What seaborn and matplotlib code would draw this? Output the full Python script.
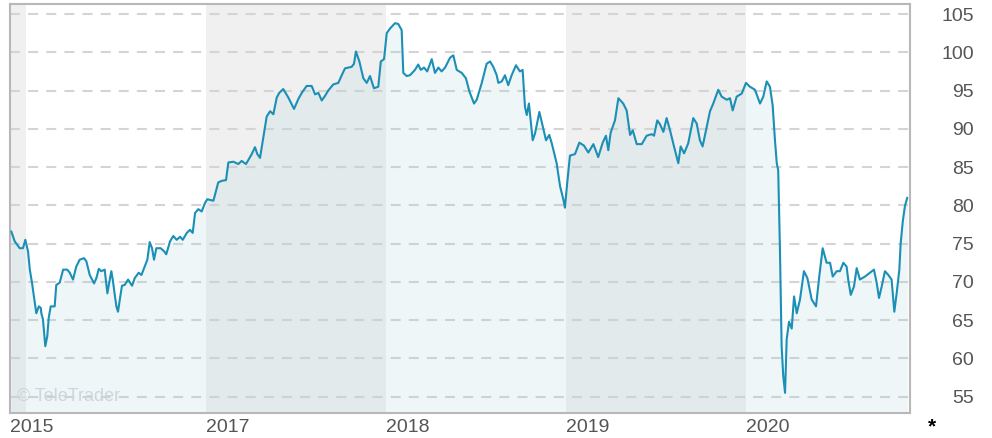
import pandas as pd
import matplotlib
matplotlib.use('Agg')
import matplotlib.pyplot as plt
import seaborn as sns
import numpy as np

# dates as decimal years, price values
years = [
    2015.918, 2015.937, 2015.965, 2015.983, 2015.996, 2016.011, 2016.021, 2016.033, 2016.044, 2016.057,
    2016.071, 2016.082, 2016.085, 2016.094, 2016.107, 2016.118, 2016.126, 2016.137, 2016.159, 2016.168,
    2016.187, 2016.206, 2016.229, 2016.243, 2016.261, 2016.279, 2016.298, 2016.322, 2016.335, 2016.354,
    2016.378, 2016.391, 2016.404, 2016.418, 2016.437, 2016.452, 2016.465, 2016.474, 2016.483, 2016.493,
    2016.502, 2016.511, 2016.521, 2016.533, 2016.548, 2016.567, 2016.589, 2016.604, 2016.626, 2016.641,
    2016.659, 2016.674, 2016.687, 2016.700, 2016.711, 2016.724, 2016.748, 2016.767, 2016.779, 2016.800,
    2016.818, 2016.837, 2016.856, 2016.871, 2016.893, 2016.911, 2016.926, 2016.939, 2016.957, 2016.976,
    2016.994, 2017.007, 2017.041, 2017.068, 2017.087, 2017.111, 2017.124, 2017.152, 2017.179, 2017.198,
    2017.222, 2017.254, 2017.272, 2017.285, 2017.300, 2017.318, 2017.337, 2017.356, 2017.374, 2017.393,
    2017.407, 2017.429, 2017.457, 2017.489, 2017.513, 2017.532, 2017.559, 2017.587, 2017.606, 2017.624,
    2017.643, 2017.661, 2017.679, 2017.707, 2017.735, 2017.754, 2017.772, 2017.809, 2017.822, 2017.833,
    2017.852, 2017.874, 2017.893, 2017.911, 2017.933, 2017.957, 2017.971, 2017.989, 2018.004, 2018.022,
    2018.050, 2018.068, 2018.087, 2018.096, 2018.115, 2018.133, 2018.161, 2018.179, 2018.193, 2018.211,
    2018.229, 2018.254, 2018.272, 2018.291, 2018.309, 2018.328, 2018.356, 2018.374, 2018.393, 2018.421,
    2018.444, 2018.463, 2018.489, 2018.504, 2018.532, 2018.559, 2018.578, 2018.596, 2018.615, 2018.624,
    2018.643, 2018.661, 2018.679, 2018.698, 2018.722, 2018.744, 2018.759, 2018.772, 2018.782, 2018.794,
    2018.815, 2018.828, 2018.852, 2018.871, 2018.889, 2018.907, 2018.921, 2018.948, 2018.967, 2018.985,
    2018.994, 2019.007, 2019.022, 2019.050, 2019.074, 2019.100, 2019.124, 2019.152, 2019.179, 2019.204,
    2019.222, 2019.235, 2019.248, 2019.272, 2019.291, 2019.318, 2019.337, 2019.356, 2019.371, 2019.393,
    2019.421, 2019.448, 2019.476, 2019.489, 2019.507, 2019.522, 2019.541, 2019.559, 2019.578, 2019.600,
    2019.624, 2019.637, 2019.656, 2019.679, 2019.707, 2019.726, 2019.744, 2019.759, 2019.782, 2019.800,
    2019.818, 2019.846, 2019.865, 2019.893, 2019.911, 2019.926, 2019.948, 2019.976, 2020.000, 2020.022,
    2020.050, 2020.078, 2020.096, 2020.115, 2020.133, 2020.148, 2020.161, 2020.171, 2020.179, 2020.189,
    2020.198, 2020.207, 2020.217, 2020.226, 2020.239, 2020.254, 2020.267, 2020.282, 2020.300, 2020.322,
    2020.341, 2020.365, 2020.389, 2020.407, 2020.426, 2020.448, 2020.467, 2020.482, 2020.504, 2020.522,
    2020.541, 2020.559, 2020.568, 2020.582, 2020.600, 2020.615, 2020.633, 2020.661, 2020.689, 2020.711,
    2020.726, 2020.739, 2020.754, 2020.772, 2020.791, 2020.809, 2020.824, 2020.837, 2020.852, 2020.859,
    2020.871, 2020.883, 2020.896,
]
prices = [
    76.6, 75.3, 74.4, 74.4, 75.5, 74.0, 71.6, 69.9, 68.1, 65.9,
    66.8, 66.6, 65.9, 65.1, 61.6, 62.9, 65.3, 66.8, 66.8, 69.6,
    69.9, 71.6, 71.6, 71.2, 70.3, 72.0, 72.9, 73.1, 72.7, 70.9,
    69.8, 70.5, 71.7, 71.4, 71.6, 68.5, 70.3, 71.4, 70.1, 68.3,
    66.8, 66.1, 67.7, 69.5, 69.6, 70.3, 69.5, 70.5, 71.2, 70.9,
    72.0, 72.9, 75.2, 74.4, 72.9, 74.4, 74.4, 74.0, 73.6, 75.3,
    76.0, 75.5, 75.9, 75.5, 76.4, 76.8, 76.4, 79.0, 79.5, 79.2,
    80.3, 80.8, 80.6, 83.0, 83.2, 83.3, 85.6, 85.7, 85.4, 85.8,
    85.4, 86.7, 87.6, 86.7, 86.2, 88.8, 91.6, 92.3, 91.9, 94.1,
    94.7, 95.2, 94.1, 92.6, 93.9, 94.7, 95.6, 95.6, 94.5, 94.7,
    93.7, 94.3, 95.0, 95.8, 96.0, 97.0, 97.9, 98.1, 98.5, 100.1,
    98.8, 96.6, 96.0, 96.9, 95.3, 95.5, 98.8, 99.1, 102.5, 103.1,
    103.8, 103.7, 102.9, 97.3, 96.9, 97.0, 97.7, 98.4, 97.7, 98.0,
    97.5, 99.1, 97.3, 98.0, 97.5, 98.0, 99.3, 99.6, 97.7, 97.3,
    96.6, 94.9, 93.3, 93.8, 96.0, 98.5, 98.8, 98.1, 97.0, 96.0,
    96.2, 97.0, 95.7, 97.0, 98.3, 97.5, 97.7, 92.9, 91.8, 93.3,
    88.5, 89.4, 92.2, 90.3, 88.5, 89.2, 88.1, 85.5, 82.5, 80.8,
    79.7, 83.0, 86.5, 86.7, 88.2, 87.8, 86.9, 88.0, 86.3, 88.2,
    89.1, 87.2, 89.5, 91.1, 94.0, 93.3, 92.4, 89.2, 89.8, 88.0,
    88.0, 89.1, 89.3, 89.1, 91.1, 90.6, 89.6, 91.4, 89.8, 87.7,
    85.5, 87.7, 86.8, 88.1, 91.4, 90.7, 88.5, 87.7, 90.3, 92.3,
    93.3, 95.1, 94.2, 93.8, 94.0, 92.4, 94.2, 94.6, 96.0, 95.5,
    95.1, 93.3, 94.2, 96.2, 95.5, 93.1, 88.5, 85.5, 84.6, 73.8,
    61.6, 57.7, 55.5, 62.5, 64.8, 63.9, 68.1, 65.9, 67.7, 71.4,
    70.5, 67.7, 66.8, 70.7, 74.4, 72.5, 72.5, 70.7, 71.4, 71.4,
    72.5, 72.0, 70.3, 68.3, 69.4, 71.8, 70.3, 70.7, 71.2, 71.6,
    69.9, 67.9, 69.4, 71.4, 70.9, 70.3, 66.1, 68.5, 71.6, 74.9,
    77.9, 79.9, 81.0,
]

year_starts = [2017, 2018, 2019, 2020]
tick_labels = ['2015', '2017', '2018', '2019', '2020']
y_ticks = [55, 60, 65, 70, 75, 80, 85, 90, 95, 100, 105]

df = pd.DataFrame({'year': years, 'price': prices})

sns.set_style('white')
plt.rcParams['font.family'] = ['Liberation Sans', 'DejaVu Sans']

fig = plt.figure(figsize=(9.92, 4.38), dpi=100)
ax = fig.add_axes([0.0101, 0.0571, 0.9072, 0.9338])

x0, x1 = 2015.911, 2020.911
y0, y1 = 52.87, 106.31

# alternating year bands
for a, b in [(x0, 2016.0), (2017.0, 2018.0), (2019.0, 2020.0)]:
    ax.axvspan(a, b, color='#f0f0f0', lw=0, zorder=0)

# dashed grid
for v in y_ticks:
    ax.axhline(v, color='#d4d4d4', lw=1.5, dashes=(4.8, 3.9), zorder=1)

ax.fill_between(df['year'], df['price'], y0, color='#aad2dc', alpha=0.2, lw=0, zorder=2)
sns.lineplot(data=df, x='year', y='price', color='#1b8fb5', lw=1.5, ax=ax, zorder=3)

ax.set_xlim(x0, x1)
ax.set_ylim(y0, y1)
ax.set_xlabel('')
ax.set_ylabel('')

ax.yaxis.tick_right()
ax.set_yticks(y_ticks)
ax.set_yticklabels([str(v) for v in y_ticks], ha='right')
ax.tick_params(axis='y', length=0, pad=46, labelsize=14, labelcolor='#555555')

ax.set_xticks([x0] + year_starts)
ax.set_xticklabels(tick_labels, ha='left')
ax.tick_params(axis='x', length=0, pad=4, labelsize=14, labelcolor='#555555')

for s in ax.spines.values():
    s.set_color('#b8b8b8')
    s.set_linewidth(1.5)

ax.text(0.008, 0.04, '\u00a9 TeleTrader', transform=ax.transAxes, fontsize=13,
        color='#cfd6d9', va='center', ha='left', zorder=4)
fig.text(932 / 992, 1 - 427 / 438, '*', fontsize=15, fontweight='bold',
         color='black', ha='center', va='center')

fig.savefig('out.png', dpi=100)
